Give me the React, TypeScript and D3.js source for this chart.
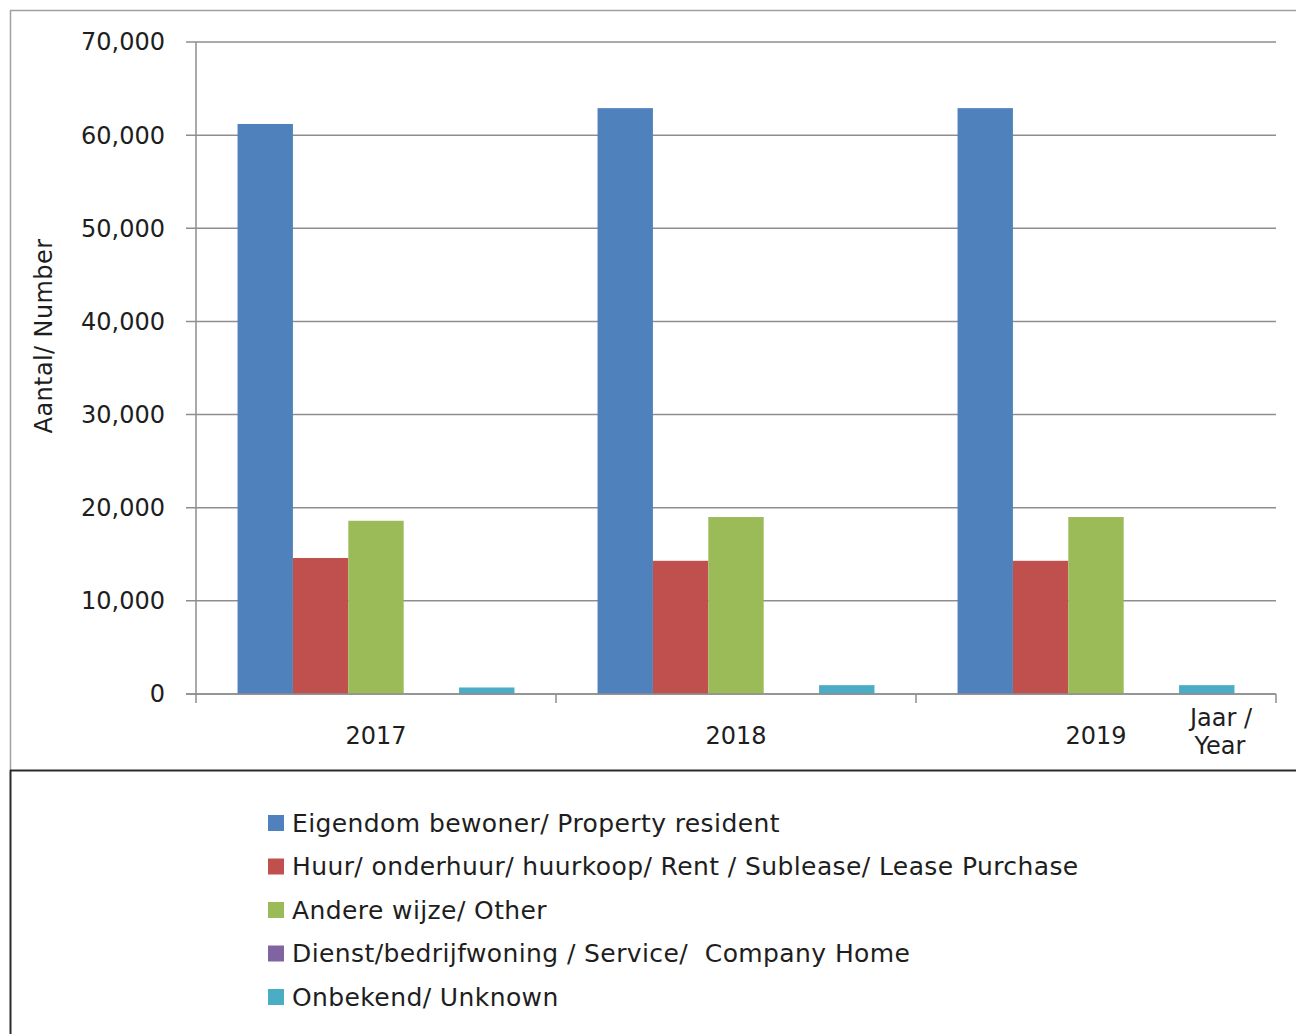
import React from "react";
import * as d3 from "d3";

const years = ["2017", "2018", "2019"];
const seriesNames = [
  "Eigendom bewoner/ Property resident",
  "Huur/ onderhuur/ huurkoop/ Rent / Sublease/ Lease Purchase",
  "Andere wijze/ Other",
  "Dienst/bedrijfwoning / Service/\u00a0 Company Home",
  "Onbekend/ Unknown",
];
const seriesColors = ["#4f81bd", "#c0504d", "#9bbb59", "#8064a2", "#4bacc6"];
const propertyResident = [61200, 62900, 62900];
const rentSublease = [14600, 14300, 14300];
const otherWay = [18600, 19000, 19000];
const companyHome = [0, 0, 0];
const unknownValues = [700, 950, 950];
const yTicks = [0, 10000, 20000, 30000, 40000, 50000, 60000, 70000];

const seriesValues = [propertyResident, rentSublease, otherWay, companyHome, unknownValues];

const W = 1296;
const H = 1034;
const FONT = "'DejaVu Sans', Verdana, sans-serif";

export default function App() {
  const left = 196;
  const right = 1276;
  const top = 42;
  const bottom = 694;
  const x = d3.scaleBand<string>().domain(years).range([left, right]).paddingInner(0).paddingOuter(0);
  const y = d3.scaleLinear().domain([0, 70000]).range([bottom, top]);
  const inner = d3
    .scaleBand<number>()
    .domain(d3.range(seriesNames.length))
    .range([0, x.bandwidth()])
    .paddingInner(0)
    .paddingOuter(0.75);
  const fmt = d3.format(",");
  const gridColor = "#8e8e8e";
  const textColor = "#1e1e1e";

  return (
    <svg
      width={W}
      height={H}
      style={{ position: "absolute", left: 0, top: 0, background: "#fff" }}
      fontFamily={FONT}
    >
      {/* outer frame */}
      <line x1={10} y1={10.5} x2={W} y2={10.5} stroke="#a0a0a0" strokeWidth={1.5} />
      <line x1={10.5} y1={10} x2={10.5} y2={770} stroke="#a0a0a0" strokeWidth={1.5} />
      <line x1={10} y1={770.5} x2={W} y2={770.5} stroke="#2a2a2a" strokeWidth={2} />
      <line x1={10.5} y1={770} x2={10.5} y2={H} stroke="#2a2a2a" strokeWidth={2} />

      {/* gridlines and y ticks */}
      {yTicks.map((t) => (
        <g key={t}>
          <line x1={186} x2={right} y1={y(t)} y2={y(t)} stroke={gridColor} strokeWidth={1.5} />
          <text
            x={165}
            y={y(t)}
            dy="0.35em"
            textAnchor="end"
            fontSize={24}
            fill={textColor}
          >
            {fmt(t)}
          </text>
        </g>
      ))}
      {/* y axis line */}
      <line x1={left} x2={left} y1={top} y2={bottom} stroke={gridColor} strokeWidth={1.5} />
      {/* x ticks */}
      {[...years.map((yr) => x(yr) as number), right].map((px, i) => (
        <line key={i} x1={px} x2={px} y1={bottom} y2={bottom + 9} stroke={gridColor} strokeWidth={1.5} />
      ))}

      {/* bars */}
      {years.map((yr, yi) => (
        <g key={yr} transform={`translate(${x(yr)},0)`}>
          {seriesValues.map((vals, si) => (
            <rect
              key={si}
              x={inner(si)}
              width={inner.bandwidth()}
              y={y(vals[yi])}
              height={bottom - y(vals[yi])}
              fill={seriesColors[si]}
            />
          ))}
        </g>
      ))}
      {/* redraw baseline over bars */}
      <line x1={186} x2={right} y1={bottom} y2={bottom} stroke={gridColor} strokeWidth={1.5} />

      {/* x labels */}
      {years.map((yr) => (
        <text
          key={yr}
          x={(x(yr) as number) + x.bandwidth() / 2}
          y={744}
          textAnchor="middle"
          fontSize={24}
          fill={textColor}
        >
          {yr}
        </text>
      ))}
      <text x={1221} y={726} textAnchor="middle" fontSize={24} fill={textColor}>
        Jaar /
      </text>
      <text x={1220} y={754} textAnchor="middle" fontSize={24} fill={textColor}>
        Year
      </text>

      {/* y axis title */}
      <text
        transform={`translate(52,336) rotate(-90)`}
        textAnchor="middle"
        fontSize={24}
        letterSpacing={0.4}
        fill={textColor}
      >
        Aantal/ Number
      </text>

      {/* legend */}
      {seriesNames.map((name, i) => {
        const cy = 823 + i * 43.5;
        return (
          <g key={name}>
            <rect x={268} y={cy - 8} width={16} height={16} fill={seriesColors[i]} />
            <text x={292} y={cy} dy="0.35em" fontSize={25} letterSpacing={0.4} fill={textColor}>
              {name}
            </text>
          </g>
        );
      })}
    </svg>
  );
}
